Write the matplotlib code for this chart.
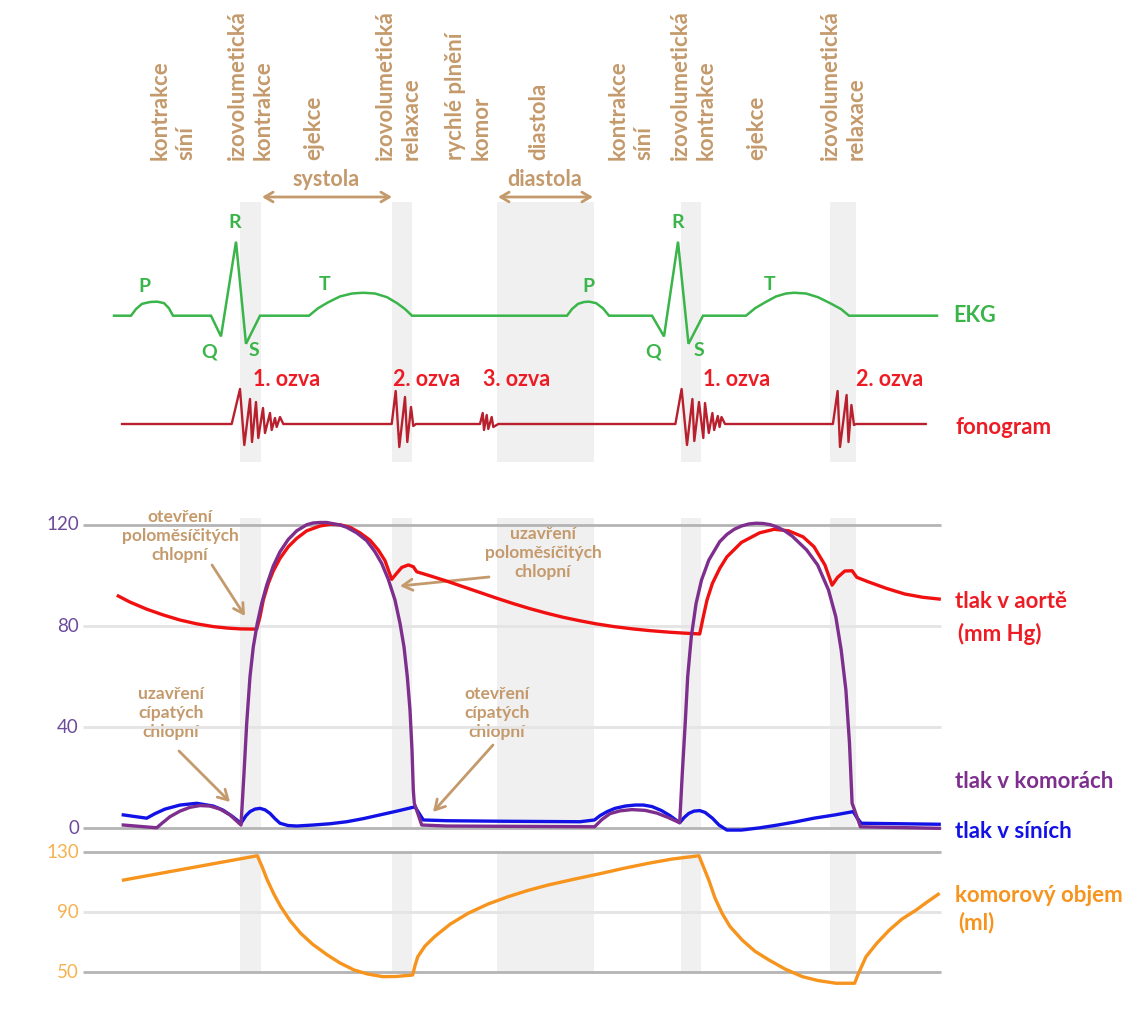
import matplotlib
matplotlib.use('Agg')
import matplotlib.pyplot as plt

plt.rcParams['font.family'] = ['Lato', 'DejaVu Sans']

# --- colours
TAN = '#c49a6c'
GREEN = '#3ab54a'
RED_TXT = '#ed1c24'
PHONO_C = '#b8202e'
AORTA_C = '#f01010'
PURPLE = '#7e2f8e'
BLUE = '#1212e6'
ORANGE = '#f7941d'
PURPLE_TICK = '#6d4b9a'
ORANGE_TICK = '#f6b24f'
BAND = '#f0f0f0'
GRID_DARK = '#b4b4b4'
GRID_LIGHT = '#e4e4e4'

W, H = 1129, 1025

# --- phases (time units along the shared x axis)
phase_bands = [(240, 261), (392, 412), (497, 594), (681, 701), (830, 856)]

# --- EKG (mV)
ekg_t = [114, 131, 136, 142, 150, 157, 164, 169, 173, 211, 221, 236, 246, 260,
         309, 318, 328, 340, 352, 363, 375, 387, 397, 405, 412,
         567, 572, 578, 584, 589, 596, 603, 609, 652, 664, 678, 688.5, 703,
         746, 755, 765, 776, 786, 794, 806, 818, 830, 841, 849, 937]
ekg_mv = [0, 0, 0.09, 0.16, 0.185, 0.19, 0.17, 0.10, 0, 0, -0.28, 1.0, -0.38, 0,
          0, 0.10, 0.18, 0.26, 0.30, 0.31, 0.30, 0.25, 0.17, 0.09, 0,
          0, 0.09, 0.16, 0.185, 0.19, 0.17, 0.10, 0, 0, -0.28, 1.0, -0.38, 0,
          0, 0.10, 0.18, 0.26, 0.30, 0.31, 0.30, 0.25, 0.17, 0.09, 0, 0]

# --- fonogram (arbitrary amplitude)
fono_t = [122, 231.7, 240, 244.3, 250, 252, 256, 258.3, 263, 265, 270, 271.7, 275, 276.7, 280, 283.3,
          391.7, 395.7, 399.3, 405, 407.3, 411, 413.3, 416,
          480, 482.7, 484, 486.7, 488.3, 491.7, 493.3, 498.3,
          675.4, 681.6, 687, 692.4, 694.3, 699, 703.3, 705, 708.8, 712.4, 714.2, 717.8, 719.6, 721.5, 725,
          832.9, 837.6, 840, 846.6, 848.5, 851.4, 854, 856, 925.7]
fono_amp = [0, 0, 35, -21, 25, -18, 22, -14, 16, -9, 11, -6, 6, -3, 7, 0,
            0, 33, -23, 27, -18, 17, -2, 0,
            0, 11, -6, 9, -5, 7, -3, 0,
            0, 35, -21, 25, -17, 22, -14, 21, -9, 11, -6, 8, -3, 7, 0,
            0, 33, -23, 29, -18, 19, -1, 0, 0]

# --- tlak v aortě (mm Hg)
aorta_t = [118.3, 130, 146.7, 163.3, 180, 196.7, 213.3, 228, 240, 256.7, 260, 263.3, 268.3,
           273.3, 280, 288.3, 296.7, 306.7, 320, 330, 340, 350, 360, 370, 378.3, 385, 391.7,
           396.7, 401.7, 408.3, 413.3, 416.7, 430, 446.7, 463, 480, 497, 513.3, 530, 546.7,
           563, 580, 596, 614, 632.6, 650, 668.9, 685, 699.7, 703.3, 707, 712.4, 719.7,
           726.9, 741.4, 759.6, 774.1, 788.6, 803.1, 814, 824.9, 832.1, 837.6, 844.8, 852.1,
           856.8, 868.4, 886.6, 904.7, 922.8, 939.2]
aorta_p = [91.9, 89.5, 86.7, 84.4, 82.4, 80.9, 79.8, 79.2, 78.9, 78.8, 83.7, 90.3, 96.9,
           101.8, 106.8, 111.4, 114.7, 117.7, 119.6, 120.3, 120.1, 119.1, 116.9, 114.0, 110.1, 105.9, 98.5,
           100.9, 103.2, 104.2, 103.5, 101.5, 99.9, 97.8, 95.6, 93.3, 91.0, 88.9, 86.9, 85.1,
           83.5, 82.1, 80.9, 79.8, 78.9, 78.2, 77.6, 77.2, 76.9, 83.7, 90.3, 96.9, 102.8,
           107.4, 113.1, 116.9, 118.3, 117.7, 115.3, 111.4, 104.2, 96.2, 99.3, 101.8, 101.9,
           99.3, 97.5, 94.9, 92.7, 91.4, 90.7]

# --- tlak v komorách (mm Hg)
komora_t = [123.3, 156.7, 162, 170, 180, 190, 200, 210, 220, 230, 241,
            244, 246.7, 250, 253.3, 257.3, 261.7, 266.7, 273.3, 280, 288.3, 296.7, 306.7, 313, 320,
            326.7, 333.3, 340, 346.7, 356.7, 366.7, 375, 381.7, 388.3, 395, 400, 404, 407.3, 410, 412,
            413.3, 414.3, 418.3, 421.7, 446.7, 594.5, 602, 610, 620, 632, 645, 657, 668, 679.7,
            682.3, 685.2, 687.7, 691.3, 696.1, 701.5, 708.8, 719.7, 727, 734.2, 741.5, 748.7, 756,
            763.2, 770.5, 777.7, 785, 792.2, 806.7, 817.6, 828.5, 835.8, 841.2, 845.9, 849.5, 852.1,
            854.6, 860.4, 939.2]
komora_p = [1.3, 0.2, 2.0, 4.6, 6.8, 8.3, 9.0, 8.8, 7.6, 5.3, 1.3,
            21.8, 41.5, 60.0, 71.8, 81.1, 89.0, 96.2, 103.8, 109.4, 114.3, 117.7, 120.1, 120.8, 121.0,
            121.0, 120.5, 120.0, 119.1, 116.9, 113.8, 109.4, 104.8, 98.5, 90.3, 81.1, 71.8, 60.0, 46.8, 31.0,
            15.2, 9.9, 5.3, 1.3, 0.9, 0.6, 3.5, 5.8, 6.9, 7.4, 7.1, 6.0, 4.3, 2.2,
            21.8, 41.5, 60.0, 75.8, 89.0, 98.2, 106.1, 113.4, 116.3, 118.3, 119.6, 120.4, 120.7,
            120.6, 120.1, 119.1, 117.6, 115.6, 110.1, 104.2, 94.3, 83.7, 70.5, 54.7, 33.6, 9.9,
            7.2, 0.6, 0.0]

# --- tlak v síních (mm Hg)
sin_t = [123.3, 146.7, 155, 165, 180, 196.7, 213.3, 223, 232, 241, 246, 250, 255, 260, 265,
         270, 275, 280, 288, 296.7, 313.3, 330, 346.7, 363, 380, 398, 415, 419, 423.3, 446.7,
         500, 580, 594.5, 600, 607.2, 615, 625.3, 635, 643.5, 652, 661.6, 670, 679.7, 684,
         688.8, 694, 699.7, 705, 712.4, 719, 726.9, 741.4, 760, 777.7, 795, 814, 835,
         853.2, 857, 861.2, 939.2]
sin_p = [5.3, 4.0, 5.8, 7.6, 9.2, 9.9, 8.8, 7.2, 4.8, 2.0, 5.0, 6.6, 7.6, 7.9, 7.3,
         5.9, 3.8, 2.0, 1.1, 0.9, 1.3, 1.8, 2.6, 3.8, 5.3, 6.9, 8.5, 6.0, 3.3, 3.0,
         2.8, 2.6, 3.3, 5.0, 6.6, 7.9, 8.8, 9.2, 9.2, 8.6, 7.0, 5.0, 2.2, 4.2,
         5.9, 6.8, 7.0, 6.3, 4.0, 1.3, -0.7, -0.7, 0.2, 1.3, 2.5, 4.0, 5.3,
         6.6, 4.2, 2.0, 1.6]

# --- komorový objem (ml)
objem_t = [123.5, 257.3, 262, 267.3, 274, 280.7, 290, 300.7, 313, 327.5, 340, 354.2, 368, 383,
           396, 412.7, 415, 417.8, 425, 434.5, 450, 468, 488, 508.1, 528, 548.2, 575, 601.7,
           625, 648.6, 672, 699, 703, 708.8, 715, 722.1, 730, 742.2, 755, 769, 785, 802.4,
           818, 835.9, 854.6, 858, 862, 866, 877, 889.4, 902, 916.1, 927, 938.2]
objem_ml = [111.5, 127.7, 120.5, 111.5, 102.0, 93.8, 84.5, 76.0, 68.5, 61.5, 56.2, 51.5, 48.8, 47.1,
            47.2, 48.2, 54.5, 60.4, 67.5, 73.7, 82.0, 89.3, 95.5, 100.4, 104.6, 108.2, 112.2, 116.0,
            119.5, 122.7, 125.5, 127.7, 121.0, 111.5, 99.5, 89.3, 80.5, 71.5, 64.0, 58.2, 52.2, 47.1,
            44.5, 42.7, 42.7, 48.5, 54.5, 60.4, 69.5, 78.2, 85.5, 91.5, 96.8, 102.0]

pressure_ticks = [120, 80, 40, 0]
volume_ticks = [130, 90, 50]


def px_limits(v_a, px_a, v_b, px_b):
    # y limits of a full-height axes so that value v_a sits at pixel row px_a, v_b at px_b
    slope = (v_a - v_b) / (px_b - px_a)
    return v_a - (H - px_a) * slope, v_a + px_a * slope


fig = plt.figure(figsize=(W / 100, H / 100), dpi=100)
fig.patch.set_facecolor('white')

ax0 = fig.add_axes([0, 0, 1, 1])
ax0.set_xlim(0, W)
ax0.set_ylim(H, 0)
ax0.axis('off')


def layer(lims):
    ax = fig.add_axes([0, 0, 1, 1])
    ax.set_xlim(0, W)
    ax.set_ylim(*lims)
    ax.patch.set_alpha(0)
    ax.axis('off')
    return ax


ax_e = layer(px_limits(0, 315.7, 1.0, 241.7))
ax_f = layer(px_limits(0, 424, 10, 414))
ax_p = layer(px_limits(0, 828.3, 120, 525))
ax_v = layer(px_limits(50, 972.3, 130, 852.3))

# phase bands in three vertical segments
for x0, x1 in phase_bands:
    for top, bot in [(202, 462), (518, 828), (852, 972)]:
        ax0.axvspan(x0, x1, ymin=1 - bot / H, ymax=1 - top / H, color=BAND, lw=0, zorder=0)

# top phase labels
phase_labels = [
    (172.8, 'kontrakce\nsíní'), (250, 'izovolumetická\nkontrakce'), (313.3, 'ejekce'),
    (398.3, 'izovolumetická\nrelaxace'), (468.3, 'rychlé plnění\nkomor'), (538.3, 'diastola'),
    (630.8, 'kontrakce\nsíní'), (693.3, 'izovolumetická\nkontrakce'), (756.7, 'ejekce'),
    (843, 'izovolumetická\nrelaxace'),
]
for x, s in phase_labels:
    ax0.text(x, 160, s, rotation=90, ha='center', va='bottom', multialignment='left',
             color=TAN, fontsize=16, fontweight='bold', linespacing=1.27)

for (x0, x1), s, xc in [((262, 392), 'systola', 326), ((498, 593), 'diastola', 545)]:
    ax0.annotate('', xy=(x0, 197), xytext=(x1, 197),
                 arrowprops=dict(arrowstyle='<->, head_length=0.6, head_width=0.35',
                                 color=TAN, lw=2, shrinkA=0, shrinkB=0))
    ax0.text(xc, 179, s, ha='center', va='center', color=TAN, fontsize=15.5, fontweight='bold')

# EKG
ax_e.plot(ekg_t, ekg_mv, color=GREEN, lw=1.8, solid_joinstyle='miter')
for x, y, s in [(144, 287, 'P'), (235, 223, 'R'), (209, 352, 'Q'), (254, 351, 'S'), (325, 285, 'T'),
                (588, 287, 'P'), (678, 223, 'R'), (653, 352, 'Q'), (699, 351, 'S'), (770, 285, 'T')]:
    ax0.text(x, y, s, ha='center', va='center', color=GREEN, fontsize=14, fontweight='bold')
ax0.text(953, 316, 'EKG', ha='left', va='center', color=GREEN, fontsize=15.5, fontweight='bold')

# fonogram
ax_f.plot(fono_t, fono_amp, color=PHONO_C, lw=1.7)
for x, s in [(253, '1. ozva'), (393, '2. ozva'), (483, '3. ozva'), (703, '1. ozva'), (856, '2. ozva')]:
    ax0.text(x, 380, s, ha='left', va='center', color=RED_TXT, fontsize=15.5, fontweight='bold')
ax0.text(955, 427, 'fonogram', ha='left', va='center', color=RED_TXT, fontsize=16, fontweight='bold')

# pressure grid + ticks
for v in pressure_ticks:
    ax_p.hlines(v, 83, 941, color=GRID_DARK if v in (0, 120) else GRID_LIGHT, lw=2, zorder=1)
    ax_p.text(79, v, str(v), ha='right', va='center', color=PURPLE_TICK, fontsize=13.5)
for v in volume_ticks:
    ax_v.hlines(v, 83, 941, color=GRID_DARK if v in (50, 130) else GRID_LIGHT, lw=2, zorder=1)
    ax_v.text(79, v, str(v), ha='right', va='center', color=ORANGE_TICK, fontsize=13.5)

ax_p.plot(aorta_t, aorta_p, color=AORTA_C, lw=2.4, zorder=3)
ax_p.plot(komora_t, komora_p, color=PURPLE, lw=2.4, zorder=4)
ax_p.plot(sin_t, sin_p, color=BLUE, lw=2.4, zorder=3)
ax_v.plot(objem_t, objem_ml, color=ORANGE, lw=2.4, zorder=3)

# right side labels
for x, y, s, c in [(955, 601, 'tlak v aortě', RED_TXT), (958, 634, '(mm Hg)', RED_TXT),
                   (955, 782, 'tlak v komorách', PURPLE), (955, 831, 'tlak v síních', BLUE),
                   (955, 895, 'komorový objem', ORANGE), (958, 923, '(ml)', ORANGE)]:
    ax0.text(x, y, s, ha='left', va='center', color=c, fontsize=16, fontweight='bold')

# valve annotations
arrow_kw = dict(arrowstyle='->, head_length=0.7, head_width=0.4', color=TAN, lw=2,
                shrinkA=0, shrinkB=0)
notes = [
    ('otevření\npoloměsíčitých\nchlopní', (180, 536), (212, 565), (245, 616)),
    ('uzavření\npoloměsíčitých\nchlopní', (543, 553), (489, 577), (400, 586)),
    ('uzavření\ncípatých\nchlopní', (171, 713), (179, 751), (230, 802)),
    ('otevření\ncípatých\nchlopní', (497, 713), (493, 745), (433, 812)),
]
for s, (tx, ty), a0, a1 in notes:
    ax0.text(tx, ty, s, ha='center', va='center', color=TAN, fontsize=12.5, fontweight='bold',
             linespacing=1.25)
    ax0.annotate('', xy=a1, xytext=a0, arrowprops=arrow_kw)

fig.savefig('out.png', dpi=100, facecolor='white')
